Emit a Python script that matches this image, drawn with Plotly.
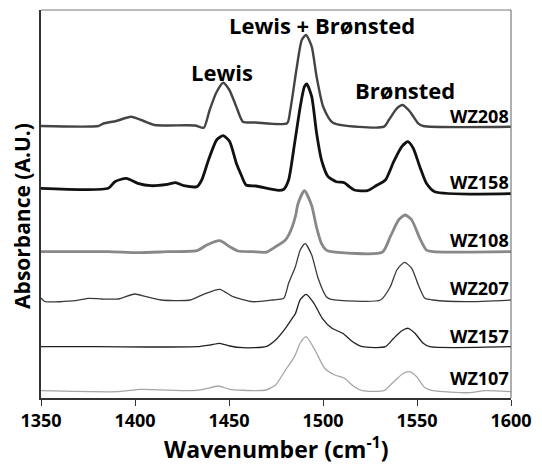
import plotly.graph_objects as go

# ---------------- data (heights above each spectrum's own baseline, A.U.) ----------------
series_names = ["WZ208", "WZ158", "WZ108", "WZ207", "WZ157", "WZ107"]

wz208_wn = [1350, 1380.6, 1383.2, 1390, 1397.9, 1404, 1410.4, 1431.9, 1436.6, 1439.7, 1443.4, 1446.9,
            1450.2, 1453.9, 1457.4, 1464.3, 1480.9, 1482.6, 1486.1, 1488.7, 1491, 1494, 1496.6,
            1500.1, 1505.3, 1532.4, 1535, 1539.3, 1542.4, 1546.3, 1550.6, 1553.3, 1600]
wz208_abs = [0, 0, 2.5, 5, 9.3, 5.5, 1, 0.5, -1.7, 16, 34, 43.3,
             36, 19.3, 4.3, 3.5, 2.7, 16, 59.3, 86, 91, 79.3, 49.3,
             19.3, 3.3, -0.7, 6, 17.7, 21, 14.3, 2.7, 0, -0.7]

wz158_wn = [1350, 1385.8, 1389.3, 1395.4, 1401.5, 1408.5, 1417.2, 1421.6, 1426, 1432.9, 1435.5,
            1439.1, 1443.4, 1446.9, 1450.4, 1453.9, 1456.5, 1459.1, 1464.3, 1476.4, 1479.1,
            1481.7, 1484.9, 1487.9, 1490.1, 1491.4, 1494, 1496.6, 1499.2, 1502.7, 1507.1,
            1511.4, 1514, 1516.6, 1523.6, 1528.8, 1533.2, 1537.6, 1541.9, 1545.1, 1548,
            1551.5, 1555, 1559.4, 1600]
wz158_abs = [0, 0, 6.6, 10, 5, 2.6, 4, 5.6, 2.6, 1.6, 8.3,
             28.3, 48.3, 52.6, 46.6, 25, 13.3, 3.3, 2.3, -2, -1,
             8.3, 45, 81.6, 101.6, 104.3, 91.6, 55, 28.3, 11.6, 6.6,
             5.6, 1.6, -1.7, -2.4, 3.3, 8.3, 26.6, 41.6, 46.6, 40,
             21.6, 5, -3.4, -5.4]

wz108_wn = [1350, 1385.8, 1401.5, 1417.2, 1432.9, 1438.2, 1445.1, 1450.4, 1454.8, 1462.6, 1469.6,
            1474.8, 1480, 1482.6, 1485.3, 1486.7, 1490.1, 1494, 1496.6, 1499.2, 1501.8,
            1504.4, 1531.5, 1535.8, 1540.2, 1543.7, 1547.2, 1551.5, 1555, 1558.5, 1600]
wz108_abs = [0, 0, -1, 0, 1, 6.7, 11, 5, 0.7, 0, -0.6,
             5, 11.7, 20, 35, 48, 61, 46, 24, 8, 1.5,
             0, -0.6, 15, 31.7, 36.7, 31.7, 13.4, 1.7, 0, 0]

wz207_wn = [1350, 1352, 1368.4, 1375.4, 1382.3, 1391.1, 1399.8, 1405.9, 1413.7, 1429.4, 1436.4,
            1445.1, 1452.1, 1462.6, 1473.1, 1479.1, 1481.7, 1485.3, 1487.9, 1490.5, 1494,
            1497.4, 1501.8, 1504.4, 1530.6, 1535.8, 1539.3, 1543.3, 1547.2, 1550.7, 1554.2,
            1558.5, 1576, 1600]
wz207_abs = [2, -1.5, -0.7, 1.7, 1, 1, 6, 3.3, 0, 0, 5.7,
             10.7, 3.3, -1.7, 0, 1.7, 16.7, 33.3, 50, 56.3, 45,
             21.7, 3.3, 0.7, 0, 13.3, 30, 37.7, 31.7, 15, 1.7,
             0, -1.7, 0]

wz157_wn = [1350, 1380.6, 1432.9, 1439.9, 1445.1, 1450.4, 1457.4, 1469.6, 1474.8, 1480, 1483.5,
            1485.3, 1487.9, 1491, 1495.2, 1499.6, 1504.8, 1510.5, 1515.8, 1521, 1533.2,
            1537.6, 1541.9, 1545.4, 1548.9, 1553.3, 1556.8, 1600]
wz157_abs = [0, 0, 0, 1.7, 3.4, 0.7, -1, 0, 6.7, 18.4, 28,
             33, 47, 52.4, 43.4, 28.4, 18.4, 13.4, 5, 0, 0,
             8.4, 16, 18.4, 13.4, 3.4, 0, 0]

wz107_wn = [1350, 1391.1, 1403.3, 1429.4, 1436.4, 1444.3, 1450.4, 1464.3, 1469.6, 1474.8, 1480,
            1483.5, 1485.3, 1487.9, 1491, 1495.7, 1500.9, 1506.2, 1511.4, 1516.6, 1521,
            1532.4, 1537.6, 1542.8, 1546, 1549.8, 1554.2, 1558.5, 1577.6, 1586.4, 1600]
wz107_abs = [0, -1, 1.4, 0, 1.4, 4.7, 1.4, 0, 0.7, 5.7, 20.7,
             30, 36, 47.7, 54, 40.7, 22.4, 15.7, 12.4, 4, 0,
             0, 9, 17.4, 19, 14, 3, 0, -2, 0, -1]

x_ticks = [1350, 1400, 1450, 1500, 1550, 1600]
peak_labels = ["Lewis", "Lewis + Brønsted", "Brønsted"]

# ---------------- presentation ----------------
wn_list = [wz208_wn, wz158_wn, wz108_wn, wz207_wn, wz157_wn, wz107_wn]
abs_list = [wz208_abs, wz158_abs, wz108_abs, wz207_abs, wz157_abs, wz107_abs]
offsets = [272, 209.7, 146.3, 98, 51.3, 7.3]
label_y = [282, 216.5, 158, 110.5, 62, 20.5]
colors = ["#444444", "#111111", "#888888", "#3a3a3a", "#222222", "#a6a6a6"]
widths = [2.4, 2.8, 2.8, 1.3, 1.3, 1.3]
FONT = "Open Sans"

fig = go.Figure()
for name, wn, ab, off, col, w in zip(series_names, wn_list, abs_list, offsets, colors, widths):
    fig.add_trace(go.Scatter(
        x=wn, y=[v + off for v in ab], mode="lines", name=name,
        line=dict(color=col, width=w, shape="spline", smoothing=0.6),
        showlegend=False, hoverinfo="x+y+name"))

for name, ly in zip(series_names, label_y):
    fig.add_annotation(x=1600, y=ly, xref="x", yref="y", text="<b>%s</b>" % name,
                       showarrow=False, xanchor="right", yanchor="middle",
                       font=dict(family=FONT, size=18, color="#000000"))

peak_pos = [(1446.2, 326), (1499.6, 373), (1543.5, 308)]
for txt, (px, py) in zip(peak_labels, peak_pos):
    fig.add_annotation(x=px, y=py, xref="x", yref="y", text="<b>%s</b>" % txt,
                       showarrow=False, xanchor="center", yanchor="middle",
                       font=dict(family=FONT, size=22, color="#000000"))

# axis titles
fig.add_annotation(x=0.5, y=-0.128, xref="paper", yref="paper",
                   text="<b>Wavenumber (cm<sup>-1</sup>)</b>", showarrow=False,
                   xanchor="center", yanchor="middle",
                   font=dict(family=FONT, size=23, color="#000000"))
fig.add_annotation(x=-0.042, y=0.47, xref="paper", yref="paper",
                   text="<b>Absorbance (A.U.)</b>", showarrow=False, textangle=-90,
                   xanchor="center", yanchor="middle",
                   font=dict(family=FONT, size=21, color="#000000"))

# top and right frame lines (lighter grey)
fig.add_shape(type="line", xref="paper", yref="paper", x0=0, x1=1, y0=1, y1=1,
              line=dict(color="#7a7a7a", width=1.2))
fig.add_shape(type="line", xref="paper", yref="paper", x0=1, x1=1, y0=0, y1=1,
              line=dict(color="#7a7a7a", width=1.2))

fig.update_layout(
    width=542, height=464,
    margin=dict(l=41, r=23, t=10, b=66),
    paper_bgcolor="white", plot_bgcolor="white",
    xaxis=dict(range=[1350, 1600], tickvals=x_ticks, ticktext=[str(t) for t in x_ticks],
               ticks="outside", ticklen=6, tickwidth=1.3, tickcolor="#333333",
               showline=True, linecolor="#333333", linewidth=1.6,
               showgrid=False, zeroline=False,
               tickfont=dict(family=FONT, size=18, color="#000000", weight="bold")),
    yaxis=dict(range=[0, 388], showticklabels=False, ticks="", showgrid=False,
               zeroline=False, showline=True, linecolor="#333333", linewidth=1.6),
)

fig.write_html("out.html")
